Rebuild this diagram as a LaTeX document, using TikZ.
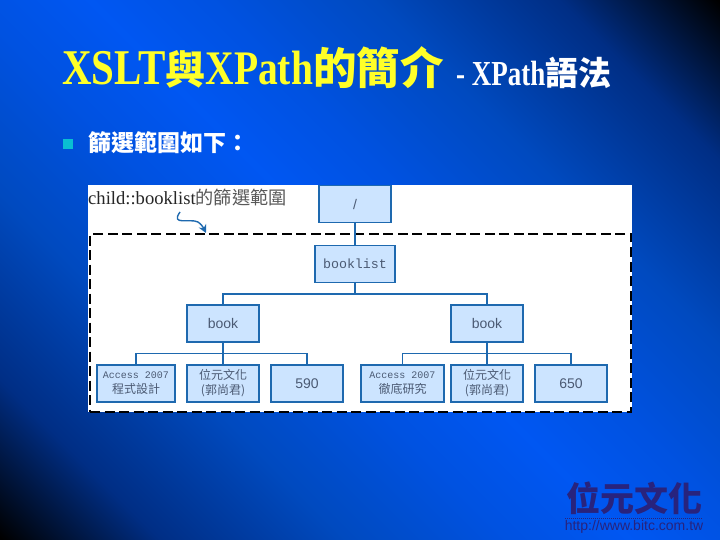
\documentclass[tikz,border=0pt]{standalone}
\usepackage{fontspec}
\usepackage{xcolor}
\usetikzlibrary{arrows.meta, positioning, calc}
\setmainfont{Liberation Serif}
\setsansfont{Liberation Sans}
\setmonofont{Liberation Mono}
\newfontfamily\cjk{Noto Sans CJK TC}
\definecolor{slideyellow}{RGB}{255, 255, 40}
\definecolor{treefill}{RGB}{204, 228, 255}
\definecolor{treeblue}{RGB}{30, 105, 175}
\definecolor{treetext}{RGB}{75, 90, 115}
\definecolor{logonavy}{RGB}{40, 35, 125}
\definecolor{bulletcyan}{RGB}{10, 190, 210}
\pgfdeclareverticalshading{slidebg}{100bp}{
  rgb(0bp)=(0,0,0); rgb(14.6bp)=(0,0,0); rgb(23.5bp)=(0,0.18,0.52);
  rgb(34bp)=(0,0.29,0.75); rgb(43bp)=(0,0.32,0.88); rgb(50bp)=(0,0.34,0.95);
  rgb(57bp)=(0,0.32,0.88); rgb(66bp)=(0,0.29,0.75); rgb(76.5bp)=(0,0.18,0.52);
  rgb(85.4bp)=(0,0,0); rgb(100bp)=(0,0,0)}
\newcommand{\fs}[1]{\fontsize{#1}{#1}\selectfont}
\newcommand{\tall}[2]{\scalebox{1}[#1]{#2}}

\begin{document}
\begin{tikzpicture}[
  x=1pt, y=-1pt,
  every node/.style={inner sep=0pt},
  tree/.style={draw=treeblue, fill=treefill, line width=1.2pt, text=treetext, align=center, font=\sffamily\fs{14}},
  upper/.style={tree, minimum width=72pt, minimum height=37pt},
  leaf/.style={tree, minimum height=37pt, font=\sffamily\fs{12}},
  link/.style={draw=treeblue, line width=1.3pt},
  arrow/.style={-{Stealth[length=8pt, width=8pt]}, treeblue, line width=1.4pt}
]

  \fill[shading=slidebg, shading angle=-45] (0,0) rectangle (720,540);

  % heading
  \node[anchor=base west, text=slideyellow, font=\rmfamily\bfseries] (title) at (62,85)
    {\tall{1.22}{\fs{41}XSLT}{\cjk\bfseries\fs{40}與}\tall{1.22}{\fs{39.5}XPath}{\cjk\bfseries\fs{43.5}的簡介}};
  \node[anchor=base west, text=white, font=\rmfamily\bfseries] (subtitle) at (456,86)
    {\tall{1.3}{\fs{27}- XPath}{\cjk\bfseries\fs{33}語法}};
  \node[fill=bulletcyan, minimum size=10pt] (bullet) at (68,144) {};
  \node[anchor=west, text=white, font=\cjk\bfseries\fs{23}] (intro) at (88,143) {篩選範圍如下：};

  % white panel and the selected range
  \node[fill=white, minimum width=544pt, minimum height=227pt] (panel) at (360,298.5) {};
  \node[draw=black, dash pattern=on 10pt off 4.5pt, line width=1.5pt, minimum width=541pt, minimum height=178pt] (range) at (360.5,323) {};
  \node[anchor=west, font=\rmfamily\fs{18.6}, text=black!85] (caption) at (88,198) {child::booklist{\cjk\fs{18.2}\color{black!65}的篩選範圍}};
  \coordinate (from) at (180,212);
  \coordinate (to) at (206,233);
  \draw[arrow] (from) .. controls (170,226) and (190,218) .. (198,222) .. controls (201,224) and (203,227) .. (to);

  % tree
  \node[upper] (root) at (355,204) {/};
  \node[upper, minimum width=80pt, font=\ttfamily\fs{13.3}] (booklist) at (355,264) {booklist};
  \node[upper] (booka) at (223,323.5) {book};
  \node[upper] (bookb) at (487,323.5) {book};

  \node[leaf, minimum width=78pt] (titlea) at (136,383.5) {{\ttfamily\fs{10}Access 2007}\\[3pt]{\cjk 程式設計}};
  \node[leaf, minimum width=72pt] (authora) at (223,383.5) {{\cjk 位元文化}\\[3pt]{\cjk (郭尚君)}};
  \node[leaf, minimum width=72pt, font=\sffamily\fs{14}] (pricea) at (307,383.5) {590};
  \node[leaf, minimum width=83pt] (titleb) at (402.5,383.5) {{\ttfamily\fs{10}Access 2007}\\[3pt]{\cjk 徹底研究}};
  \node[leaf, minimum width=72pt] (authorb) at (487,383.5) {{\cjk 位元文化}\\[3pt]{\cjk (郭尚君)}};
  \node[leaf, minimum width=72pt, font=\sffamily\fs{14}] (priceb) at (571,383.5) {650};

  \draw[link] (root) -- (booklist);
  \draw[link] (booklist.south) -- ++(0,11) -| (booka.north);
  \draw[link] (booklist.south) -- ++(0,11) -| (bookb.north);
  \draw[link] (booka) -- (authora);
  \draw[link] (booka.south) -- ++(0,11) -| (titlea.north);
  \draw[link] (booka.south) -- ++(0,11) -| (pricea.north);
  \draw[link] (bookb) -- (authorb);
  \draw[link] (bookb.south) -- ++(0,11) -| (titleb.north);
  \draw[link] (bookb.south) -- ++(0,11) -| (priceb.north);

  % logo
  \node[text=logonavy, font=\cjk\bfseries\fs{34}] (logo) at (634,498) {位元文化};
  \coordinate (rulea) at (565,518);
  \coordinate (ruleb) at (703,518);
  \draw[logonavy, line width=0.7pt, dash pattern=on 1pt off 1pt] (rulea) -- (ruleb);
  \node[text=logonavy, font=\sffamily\fs{14}] (url) at (634,527) {http://www.bitc.com.tw};

\end{tikzpicture}
\end{document}
